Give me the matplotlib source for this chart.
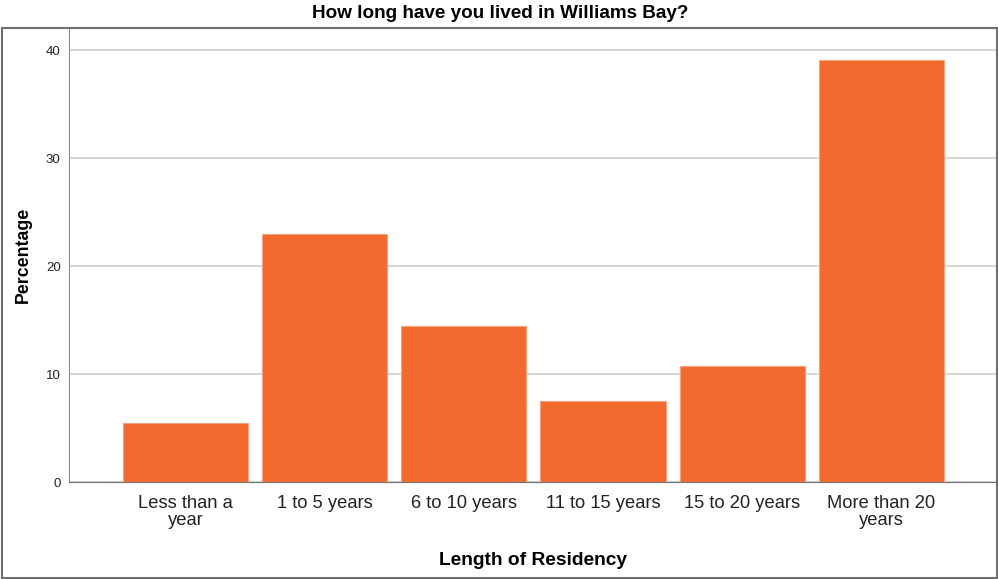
import matplotlib
matplotlib.use('Agg')
import matplotlib.pyplot as plt
from matplotlib.patches import Rectangle

categories = ['Less than a\nyear', '1 to 5 years', '6 to 10 years', '11 to 15 years',
              '15 to 20 years', 'More than 20\nyears']
percent = [5.5, 23.0, 14.4, 7.5, 10.7, 39.1]

plt.rcParams['font.family'] = ['Liberation Sans', 'DejaVu Sans']

fig = plt.figure(figsize=(9.98, 5.79), dpi=100)
ax = fig.add_axes([0.0691, 0.1675, 0.9299, 0.7841])

x = range(len(categories))
ax.bar(x, percent, width=0.9, color='#F26A2D', edgecolor='#F7A27E', linewidth=0.8, zorder=3)

ax.set_xlim(-0.836, 5.83)
ax.set_ylim(0, 40 * (482 - 28) / (482 - 50))
ax.set_yticks([0, 10, 20, 30, 40])
ax.set_yticklabels(['0', '10', '20', '30', '40'], fontsize=9.5, color='#222222')
ax.set_xticks(list(x))
ax.set_xticklabels(categories, fontsize=13.2, color='#222222', linespacing=1.0)
ax.tick_params(axis='both', length=0)
ax.tick_params(axis='y', pad=6)
ax.tick_params(axis='x', pad=9)
ax.grid(axis='y', color='#cfcfcf', linewidth=1.2, zorder=0)

for s in ['top', 'right']:
    ax.spines[s].set_visible(False)
ax.spines['left'].set_color('#8a8a8a')
ax.spines['bottom'].set_color('#707070')

ax.set_xlabel('Length of Residency', fontsize=13.8, fontweight='bold', labelpad=17)
ax.set_ylabel('Percentage', fontsize=12.8, fontweight='bold', labelpad=10)

# outer frame
fig.patches.append(Rectangle((1.5 / 998, 1.5 / 579), 995.5 / 998, 550 / 579,
                             transform=fig.transFigure, fill=False,
                             edgecolor='#6e6e6e', linewidth=1.5))
fig.text(500 / 998, 1 - 13 / 579, 'How long have you lived in Williams Bay?',
         ha='center', va='center', fontsize=13.6, fontweight='bold')

fig.savefig('out.png', dpi=100)
